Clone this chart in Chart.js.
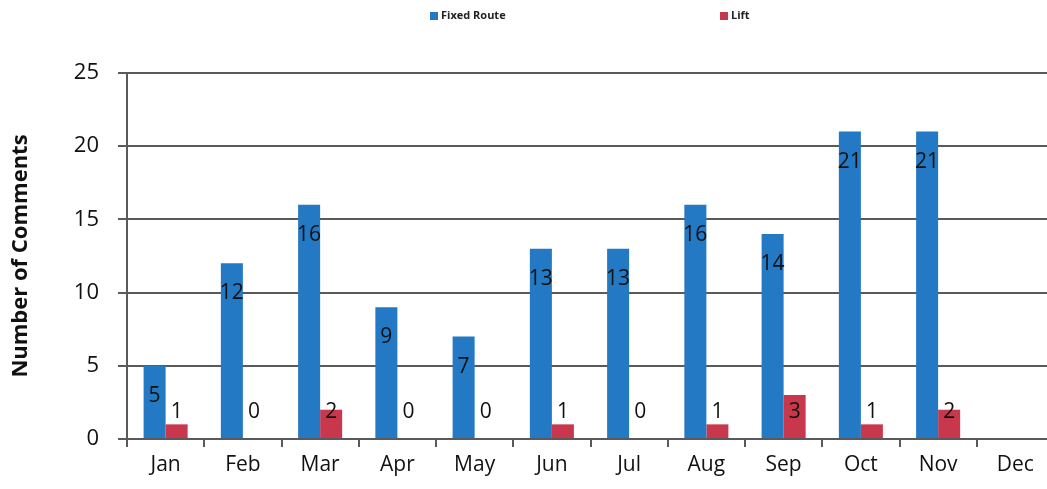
<!DOCTYPE html>
<html>
<head>
<meta charset="utf-8">
<script src="https://cdn.jsdelivr.net/npm/chart.js@4"></script>
<style>
  html, body { margin: 0; padding: 0; background: #fff; overflow: hidden; }
  #wrap { width: 1060px; height: 489px; }
</style>
</head>
<body>
<div id="wrap"><canvas id="chart"></canvas></div>
<script>
const months = ["Jan", "Feb", "Mar", "Apr", "May", "Jun", "Jul", "Aug", "Sep", "Oct", "Nov", "Dec"];
const fixedRoute = [5, 12, 16, 9, 7, 13, 13, 16, 14, 21, 21, null];
const lift = [1, 0, 2, 0, 0, 1, 0, 1, 3, 1, 2, null];
const seriesNames = ["Fixed Route", "Lift"];
const yTicks = [0, 5, 10, 15, 20, 25];

const blue = "#2479c4";
const red = "#c9374c";
const gridColor = "#5a5a5a";
const fontFam = "'Open Sans', 'Liberation Sans', sans-serif";

// value labels: blue inside the bar under its top, red sitting low near the axis
const labelPlugin = {
  id: "barLabels",
  afterDatasetsDraw(chart) {
    const ctx = chart.ctx;
    const yScale = chart.scales.y;
    ctx.save();
    ctx.fillStyle = "#111";
    ctx.font = "21px " + fontFam;
    ctx.textAlign = "center";
    ctx.textBaseline = "middle";
    chart.data.datasets.forEach((ds, di) => {
      chart.getDatasetMeta(di).data.forEach((bar, i) => {
        const v = ds.data[i];
        if (v === null) return;
        let y;
        if (di === 0) y = bar.y + 30;
        else y = yScale.getPixelForValue(0) - 27;
        ctx.fillText(String(v), bar.x, y);
      });
    });
    ctx.restore();
  }
};

// legend drawn at the top like the original
const legendPlugin = {
  id: "topLegend",
  afterDraw(chart) {
    const ctx = chart.ctx;
    const spots = [430, 720];
    ctx.save();
    ctx.font = "bold 11px " + fontFam;
    ctx.textBaseline = "middle";
    chart.data.datasets.forEach((ds, di) => {
      const x = spots[di];
      ctx.fillStyle = ds.backgroundColor;
      ctx.fillRect(x, 12, 8, 8);
      ctx.fillStyle = "#222";
      ctx.fillText(ds.label, x + 11, 16);
    });
    ctx.restore();
  }
};

new Chart(document.getElementById("chart"), {
  type: "bar",
  data: {
    labels: months,
    datasets: [
      { label: seriesNames[0], data: fixedRoute, backgroundColor: blue },
      { label: seriesNames[1], data: lift, backgroundColor: red }
    ]
  },
  options: {
    responsive: true,
    maintainAspectRatio: false,
    animation: false,
    layout: { padding: { top: 73, right: 6, left: 0, bottom: 0 } },
    datasets: {
      bar: { barPercentage: 1, categoryPercentage: 0.57 }
    },
    plugins: {
      legend: { display: false },
      tooltip: { enabled: false }
    },
    scales: {
      x: {
        grid: {
          offset: true,
          drawOnChartArea: false,
          drawTicks: true,
          tickLength: 8,
          color: gridColor,
          lineWidth: 2
        },
        border: { display: true, color: gridColor, width: 2 },
        ticks: {
          color: "#111",
          font: { family: fontFam, size: 21 },
          padding: 5
        },
        afterFit(scale) { scale.height = 50; }
      },
      y: {
        min: 0,
        max: 25,
        afterBuildTicks(scale) { scale.ticks = yTicks.map(v => ({ value: v })); },
        grid: {
          color: gridColor,
          lineWidth: 2,
          tickLength: 9
        },
        border: { display: true, color: gridColor, width: 2 },
        ticks: {
          color: "#111",
          font: { family: fontFam, size: 22 },
          padding: 19
        },
        title: {
          display: true,
          text: "Number of Comments",
          color: "#111",
          font: { family: fontFam, size: 22, weight: "bold" },
          padding: { top: 8, bottom: 20 }
        },
        afterFit(scale) { scale.width = 127; }
      }
    }
  },
  plugins: [labelPlugin, legendPlugin]
});
</script>
</body>
</html>
